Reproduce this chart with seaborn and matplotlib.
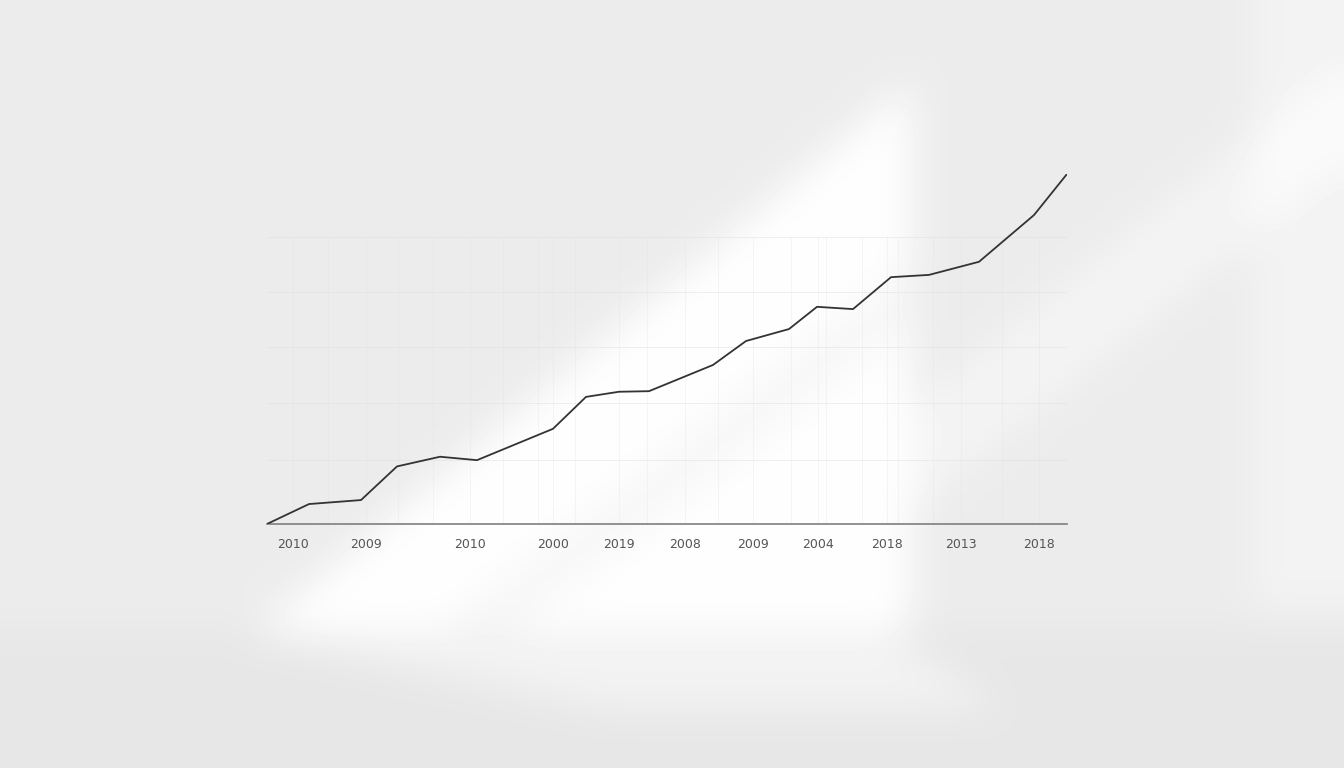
# Line chart on a softly lit wall, redrawn with seaborn.
import numpy as np
import pandas as pd
import matplotlib
matplotlib.use("Agg")
import matplotlib.pyplot as plt
import seaborn as sns

# series (x in axis positions 0..80, y from the baseline)
x_pos = [0, 4.2, 9.4, 13.0, 17.3, 21.0, 28.6, 31.9, 35.2, 38.2,
         44.6, 47.9, 52.2, 55.0, 58.6, 62.4, 66.2, 71.2, 76.7, 80.0]
values = [0, 3.5, 4.2, 10.1, 11.8, 11.2, 16.7, 22.3, 23.2, 23.3,
          27.9, 32.1, 34.2, 38.1, 37.7, 43.3, 43.7, 46.0, 54.2, 61.4]

# tick labels as printed under the axis
tick_pos = [2.6, 9.9, 20.3, 28.6, 35.2, 41.8, 48.6, 55.1, 62.0, 69.4, 77.2]
tick_labels = ["2010", "2009", "2010", "2000", "2019", "2008",
               "2009", "2004", "2018", "2013", "2018"]
minor_pos = [6.1, 13.1, 16.6, 23.6, 27.1, 30.8, 38.0, 45.1,
             52.4, 55.9, 59.5, 63.1, 66.6, 73.5]
grid_y = [11.2, 21.2, 31.1, 40.7, 50.4]

W, H = 1344, 768


def box_blur(a, r):
    """Cheap separable box blur, repeated for a softer falloff."""
    k = np.ones(2 * r + 1) / (2 * r + 1)
    for _ in range(2):
        p = np.pad(a, r, mode="edge")
        p = np.apply_along_axis(lambda v: np.convolve(v, k, mode="valid"), 1, p)
        a = np.apply_along_axis(lambda v: np.convolve(v, k, mode="valid"), 0, p)
    return a


def wall_light():
    """Grey wall with diagonal window light, as a small greyscale image."""
    s = 4
    yy, xx = np.mgrid[0:H // s, 0:W // s] * s
    yy = yy.astype(float)
    xx = xx.astype(float)

    def cross(x0, y0, x1, y1):
        return (x1 - x0) * (yy - y0) - (y1 - y0) * (xx - x0)

    def dist(x0, y0, x1, y1):
        return np.abs(cross(x0, y0, x1, y1)) / np.hypot(x1 - x0, y1 - y0)

    img = np.full(xx.shape, 0.925)
    # floor
    img[yy >= 628] = 0.905
    # main light patch
    main = (cross(240, 640, 910, 80) > 0) & (xx < 910) & (yy < 630)
    img[main] += 0.07
    # frame shadow inside the patch
    band = (dist(470, 630, 910, 290) < 22) & main
    img[band] -= 0.03
    # second shaft to the right
    shaft = (dist(880, 480, 1344, 110) < 40) & (xx > 905) & (yy < 630)
    img[shaft] += 0.03
    # bright strip at the right edge
    img[(xx > 1250) & (yy < 610)] += 0.025
    # light on the floor
    floor = ((yy > 630) & (yy < 705) & (cross(880, 630, 1000, 705) > 0)
             & (cross(240, 630, 600, 705) < 0))
    img[floor] += 0.045
    img = box_blur(img, 5)
    return np.clip(img, 0, 1)


def main():
    sns.set_style("white")
    plt.rcParams["font.family"] = ["DejaVu Sans"]

    fig = plt.figure(figsize=(W / 100, H / 100), dpi=100)

    bg = fig.add_axes([0, 0, 1, 1], zorder=-1)
    bg.imshow(wall_light(), cmap="gray", vmin=0, vmax=1, extent=[0, W, H, 0],
              interpolation="bilinear", aspect="auto")
    bg.set_axis_off()

    left, right, bottom, top = 267, 1067, 524, 174
    ax = fig.add_axes([left / W, 1 - bottom / H, (right - left) / W, (bottom - top) / H])
    ax.set_facecolor("none")

    df = pd.DataFrame({"x": x_pos, "value": values})

    # faint grid
    ax.hlines(grid_y, 0, 80, color="#dcdcdc", lw=0.6, alpha=0.5, zorder=0)
    ax.vlines(tick_pos + minor_pos, 0, grid_y[-1], color="#e0e0e0", lw=0.5,
              alpha=0.4, zorder=0)

    sns.lineplot(data=df, x="x", y="value", ax=ax, color="#333333", lw=1.3,
                 zorder=3)

    ax.set_xlim(0, 80)
    ax.set_ylim(0, 61.4)
    ax.set_xticks(tick_pos)
    ax.set_xticklabels(tick_labels)
    ax.set_xticks(minor_pos, minor=True)
    ax.set_yticks([])
    ax.tick_params(axis="x", which="major", direction="inout", length=6,
                   width=0.8, color="#8a8a8a", pad=7, labelsize=9,
                   labelcolor="#555555")
    ax.tick_params(axis="x", which="minor", direction="inout", length=5,
                   width=0.6, color="#b0b0b0")
    ax.set_xlabel("")
    ax.set_ylabel("")
    for side in ["left", "right", "top"]:
        ax.spines[side].set_visible(False)
    ax.spines["bottom"].set_color("#7f7f7f")
    ax.spines["bottom"].set_linewidth(1.2)
    ax.set_clip_on(False)

    fig.savefig("out.png", dpi=100)


if __name__ == "__main__":
    main()
